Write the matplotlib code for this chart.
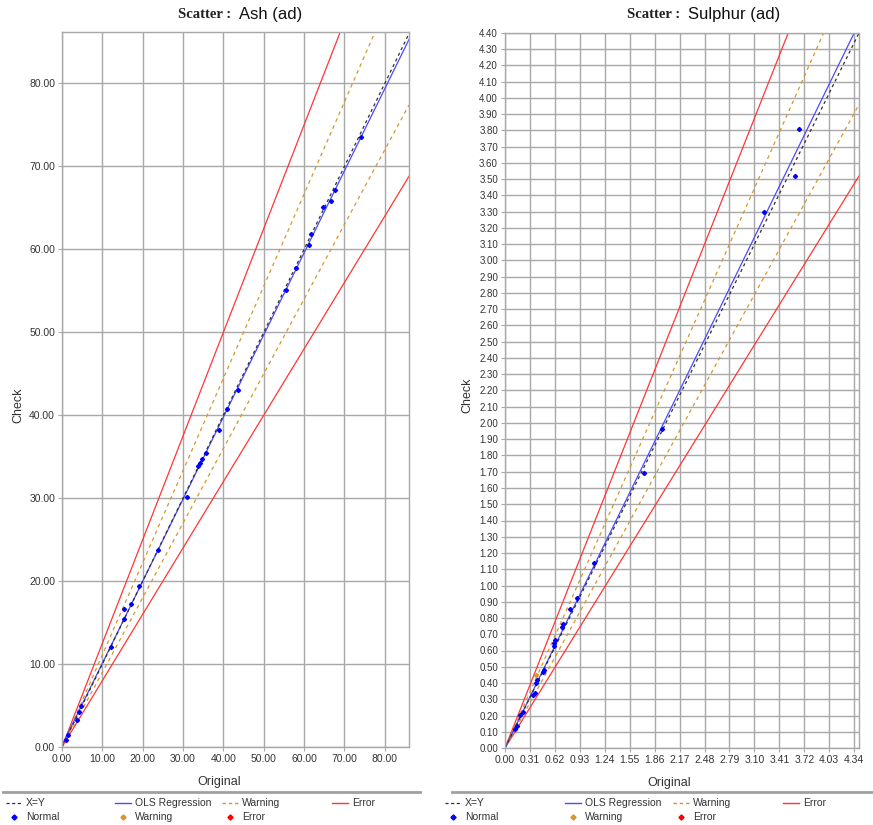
import matplotlib
matplotlib.use("Agg")
import matplotlib.pyplot as plt
import numpy as np
from matplotlib.lines import Line2D

plt.rcParams['font.family'] = ['Liberation Sans', 'DejaVu Sans']

# --- Ash (ad) data ---
ash_orig = [1.0, 1.5, 3.8, 4.1, 4.8, 12.1, 15.3, 15.4, 17.2, 19.1, 23.7, 31.1,
            33.8, 34.1, 34.8, 35.8, 38.9, 41.0, 43.5, 55.6, 57.9, 61.2, 61.7,
            64.7, 66.7, 67.6, 74.2]
ash_check = [0.8, 1.4, 3.2, 4.2, 4.9, 12.0, 15.4, 16.6, 17.3, 19.4, 23.8, 30.2,
             33.9, 34.2, 34.7, 35.4, 38.2, 40.8, 43.0, 55.1, 57.7, 60.5, 61.8,
             65.1, 65.8, 67.1, 73.5]
# reference lines (end points)
ash_xy = ([0, 86], [0, 86])
ash_ols = ([0, 86], [0.2, 85.3])
ash_warn_hi = ([0, 77.4], [0, 86])
ash_warn_lo = ([0, 86], [0, 77.4])
ash_err_hi = ([0, 68.8], [0, 86])
ash_err_lo = ([0, 86], [0, 68.8])
ash_ticks = [0, 10, 20, 30, 40, 50, 60, 70, 80]

# --- Sulphur (ad) data ---
sul_orig = [0.13, 0.148, 0.189, 0.229, 0.354, 0.37, 0.39, 0.396, 0.47, 0.479,
            0.603, 0.615, 0.624, 0.707, 0.727, 0.810, 0.894, 1.100, 1.722,
            1.950, 3.213, 3.607, 3.653]
sul_check = [0.115, 0.137, 0.203, 0.224, 0.326, 0.34, 0.40, 0.419, 0.47, 0.480,
             0.628, 0.645, 0.665, 0.747, 0.764, 0.854, 0.922, 1.137, 1.695,
             1.966, 3.301, 3.521, 3.812]
sul_warn_orig = [0.384]
sul_warn_check = [0.450]
sul_xy = ([0, 4.4], [0, 4.4])
sul_ols = ([0, 4.34], [0, 4.40])
sul_warn_hi = ([0, 3.96], [0, 4.40])
sul_warn_lo = ([0, 4.40], [0, 3.96])
sul_err_hi = ([0, 3.52], [0, 4.40])
sul_err_lo = ([0, 4.40], [0, 3.52])
sul_xticks = [0.00, 0.31, 0.62, 0.93, 1.24, 1.55, 1.86, 2.17, 2.48, 2.79,
              3.10, 3.41, 3.72, 4.03, 4.34]
sul_yticks = [round(i * 0.1, 2) for i in range(45)]

W, H = 873, 825
GRID = '#a8a8a8'
TXT = '#333333'
C_XY = '#303030'
C_OLS = '#4a4aff'
C_WARN = '#d9962a'
C_ERR = '#ff3535'
C_NORMAL = '#0000ff'


def px_axes(left, top, right, bottom):
    return [left / W, 1 - bottom / H, (right - left) / W, (bottom - top) / H]


def draw_scatter(ax, orig, check, lines, xlim, ylim, xticks, yticks,
                 warn=None, label_pos=None):
    xy, ols, whi, wlo, ehi, elo = lines
    ax.plot(*ehi, color=C_ERR, lw=0.9)
    ax.plot(*elo, color=C_ERR, lw=0.9)
    ax.plot(*whi, color=C_WARN, lw=0.9, ls=(0, (3, 3)))
    ax.plot(*wlo, color=C_WARN, lw=0.9, ls=(0, (3, 3)))
    ax.plot(*ols, color=C_OLS, lw=0.9)
    ax.plot(*xy, color=C_XY, lw=0.9, ls=(0, (2.5, 2.5)))
    ax.plot(orig, check, ls='none', marker='D', ms=2.1, color=C_NORMAL)
    if warn is not None:
        ax.plot(warn[0], warn[1], ls='none', marker='D', ms=2.1, color=C_WARN)

    ax.set_xlim(*xlim)
    ax.set_ylim(*ylim)
    ax.set_xticks(xticks)
    ax.set_yticks(yticks)
    ax.set_xticklabels([f'{v:.2f}' for v in xticks])
    ax.set_yticklabels([f'{v:.2f}' for v in yticks])
    ax.grid(True, color=GRID, lw=1.0)
    ax.set_axisbelow(True)
    for s in ax.spines.values():
        s.set_color(GRID)
        s.set_linewidth(1.0)
    ax.tick_params(colors=GRID, labelcolor=TXT, labelsize=7.5, length=3,
                   width=0.8, pad=2)
    ax.set_xlabel('Original', fontsize=9, color=TXT)
    ax.set_ylabel('Check', fontsize=9, color=TXT)
    ax.xaxis.set_label_coords(*label_pos[0])
    ax.yaxis.set_label_coords(*label_pos[1])


def fig_line(fig, xs, ys, **kw):
    fig.add_artist(Line2D([x / W for x in xs], [1 - y / H for y in ys],
                          transform=fig.transFigure, **kw))


def fig_text(fig, x, y, s, **kw):
    fig.text(x / W, 1 - y / H, s, **kw)


def draw_legend(fig, x0, x1, cols):
    fig_line(fig, [x0, x1], [792, 792], color='#a0a0a0', lw=2)
    r1, r2 = 803, 817
    lkw = dict(fontsize=7.5, color=TXT, va='center', ha='left')
    c = cols
    fig_line(fig, [c[0], c[0] + 16], [r1, r1], color=C_XY, lw=0.9, ls=(0, (2.5, 2)))
    fig_text(fig, c[0] + 20, r1, 'X=Y', **lkw)
    fig_line(fig, [c[1], c[1] + 16], [r1, r1], color=C_OLS, lw=1.0)
    fig_text(fig, c[1] + 20, r1, 'OLS Regression', **lkw)
    fig_line(fig, [c[2], c[2] + 16], [r1, r1], color=C_WARN, lw=1.0, ls=(0, (2.5, 2)))
    fig_text(fig, c[2] + 20, r1, 'Warning', **lkw)
    fig_line(fig, [c[3], c[3] + 16], [r1, r1], color=C_ERR, lw=1.0)
    fig_text(fig, c[3] + 20, r1, 'Error', **lkw)
    for xc, col, lab in [(c[0] + 8, C_NORMAL, 'Normal'),
                         (c[1] + 8, C_WARN, 'Warning'),
                         (c[2] + 8, 'red', 'Error')]:
        fig_line(fig, [xc], [r2], ls='none', marker='D', ms=2.6, color=col)
        fig_text(fig, xc + 12, r2, lab, **lkw)


fig = plt.figure(figsize=(W / 100, H / 100), dpi=100)

ax1 = fig.add_axes(px_axes(62, 32, 409, 747))
draw_scatter(ax1, ash_orig, ash_check,
             [ash_xy, ash_ols, ash_warn_hi, ash_warn_lo, ash_err_hi, ash_err_lo],
             (0, 86), (0, 86.2), ash_ticks, ash_ticks,
             label_pos=((0.452, -0.04), (-0.107, 0.478)))

ax2 = fig.add_axes(px_axes(505, 33, 859, 748))
draw_scatter(ax2, sul_orig, sul_check,
             [sul_xy, sul_ols, sul_warn_hi, sul_warn_lo, sul_err_hi, sul_err_lo],
             (0, 4.40), (0, 4.40), sul_xticks, sul_yticks,
             warn=(sul_warn_orig, sul_warn_check),
             label_pos=((0.463, -0.04), (-0.088, 0.494)))
ax2.tick_params(axis='y', labelsize=7)

# titles: serif "Scatter :" followed by the sans-serif variable name
for xr, name in [(231, 'Ash (ad)'), (680, 'Sulphur (ad)')]:
    fig_text(fig, xr, 15, 'Scatter :', family='Liberation Serif',
             fontweight='bold', fontsize=10.5, color='#222222',
             ha='right', va='center')
    fig_text(fig, xr + 8, 15, name, fontsize=12, color='#111111',
             ha='left', va='center')

draw_legend(fig, 3, 420, [6, 115, 222, 332])
draw_legend(fig, 452, 873, [445, 565, 673, 783])

fig.savefig('out.png', dpi=100)
